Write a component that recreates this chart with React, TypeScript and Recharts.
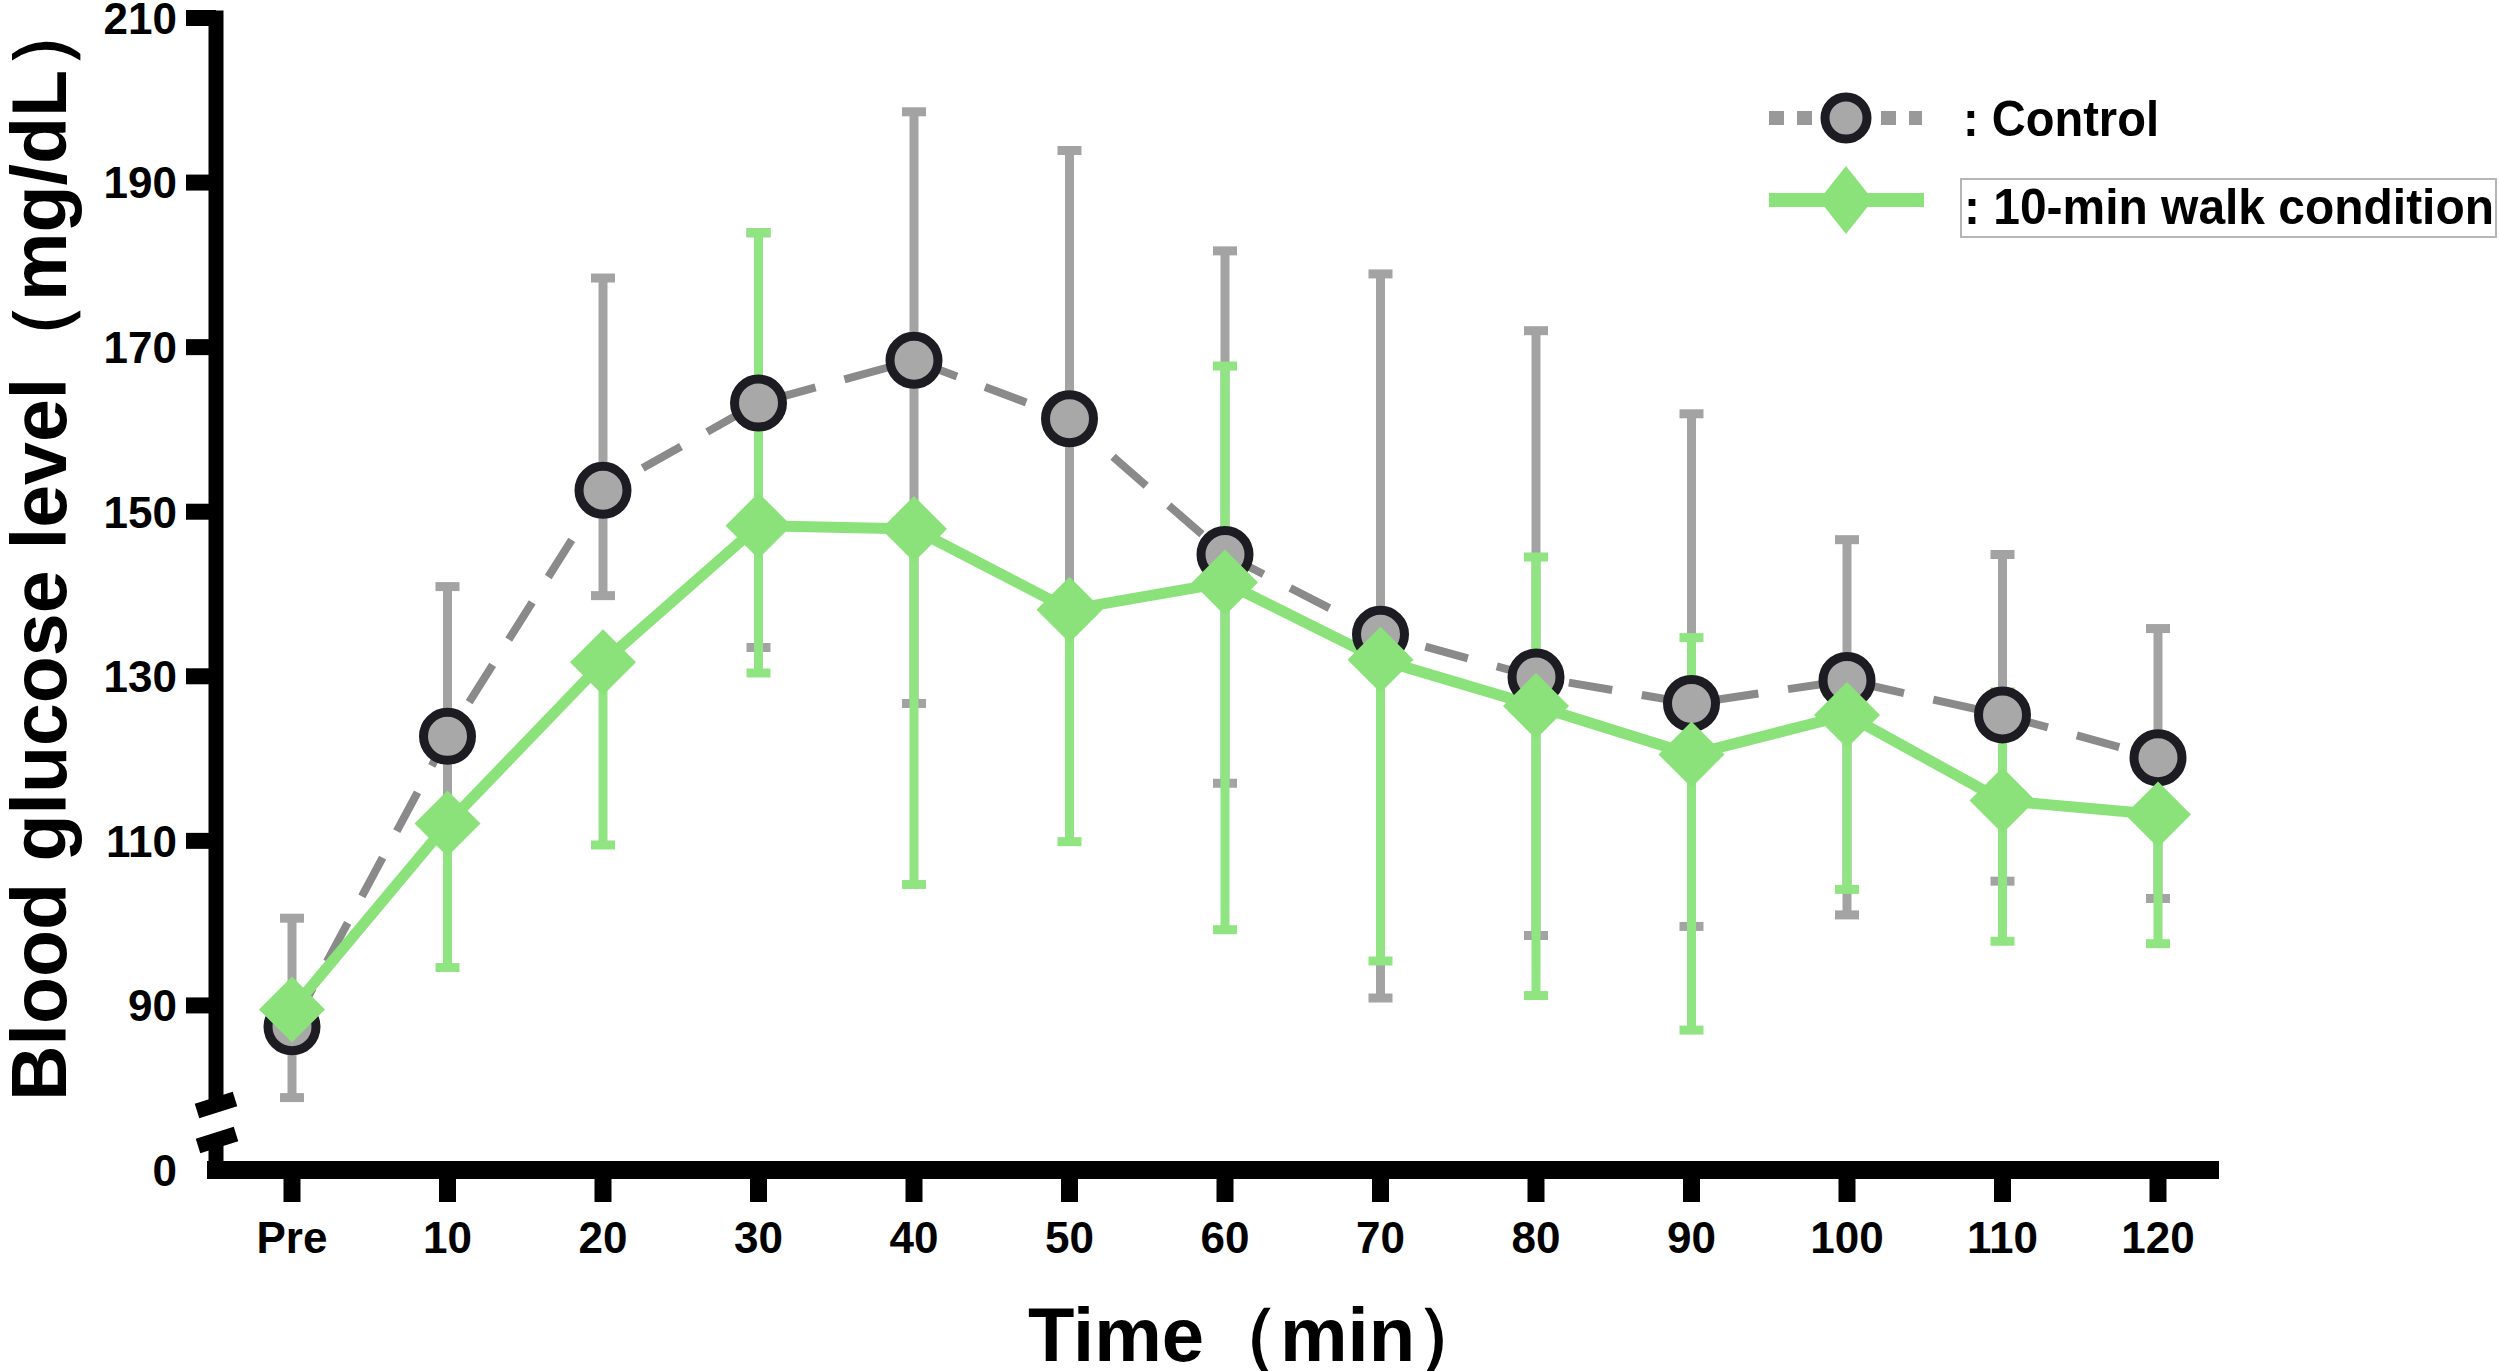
import React from "react";
import { ErrorBar, Label, Line, LineChart, XAxis, YAxis } from "recharts";

const FONT = "'Liberation Sans', Arial, Helvetica, sans-serif";

const TIMES = ["Pre", "10", "20", "30", "40", "50", "60", "70", "80", "90", "100", "110", "120"];

// Control condition: mean with the lower / upper end of each error bar
const CONTROL_MEAN = [87.4, 122.7, 152.6, 163.2, 168.4, 161.3, 144.8, 135.1, 129.9, 126.7, 129.5, 125.3, 120.1];
const CONTROL_LOW = [78.8, 112.1, 139.8, 133.5, 126.7, 138.1, 117.0, 90.9, 98.5, 99.6, 101.0, 105.1, 103.0];
const CONTROL_HIGH = [100.6, 140.9, 178.4, 183.9, 198.6, 193.9, 181.7, 178.9, 172.0, 161.9, 146.6, 144.8, 135.8];

// 10-min walk condition
const WALK_MEAN = [89.5, 112.1, 131.7, 148.3, 147.9, 138.1, 141.4, 132.0, 126.4, 120.5, 125.3, 114.9, 113.2];
const WALK_LOW = [89.5, 94.6, 109.5, 130.4, 104.7, 109.9, 99.2, 95.4, 91.2, 87.0, 104.1, 97.8, 97.5];
const WALK_HIGH = [89.5, 112.1, 131.7, 183.9, 147.9, 138.1, 167.7, 132.0, 144.5, 134.7, 125.3, 128.1, 120.1];

// the lowest tick sits below the axis break and is labelled "0"
const Y_TICKS = [70, 90, 110, 130, 150, 170, 190, 210];
const Y_BREAK_LABEL = "0";

const SERIES_NAMES = [": Control", ": 10-min walk condition"];

const rows = TIMES.map((time, i) => ({
  time,
  control: CONTROL_MEAN[i],
  controlErr: [CONTROL_MEAN[i] - CONTROL_LOW[i], CONTROL_HIGH[i] - CONTROL_MEAN[i]],
  walk: WALK_MEAN[i],
  walkErr: [WALK_MEAN[i] - WALK_LOW[i], WALK_HIGH[i] - WALK_MEAN[i]],
}));

const GREEN = "#8be27a";
const GREEN_BAR = "#90e481";
const GRAY_LINE = "#8a8a8a";
const GRAY_BAR = "#a3a3a3";
const GRAY_FILL = "#a8a8a8";
const DARK = "#1c1c22";

const Y_TICK_SIZE = 30;
const Y_TICK_MARGIN = 9;

function YTick(props: any) {
  const { x, y, payload } = props;
  const axisX = x + Y_TICK_SIZE + Y_TICK_MARGIN;
  const isBreak = payload.value === Y_TICKS[0];
  return (
    <g>
      {isBreak ? (
        <g>
          <rect x={axisX - 10} y={y - 62} width={20} height={28} fill="#fff" />
          <line x1={axisX - 19} y1={y - 59} x2={axisX + 19} y2={y - 71} stroke="#000" strokeWidth={15} />
          <line x1={axisX - 18} y1={y - 24} x2={axisX + 20} y2={y - 36} stroke="#000" strokeWidth={15} />
        </g>
      ) : (
        <line x1={axisX - Y_TICK_SIZE} y1={y} x2={axisX} y2={y} stroke="#000" strokeWidth={16} />
      )}
      <text
        x={x}
        y={y}
        dy="0.36em"
        textAnchor="end"
        fontFamily={FONT}
        fontSize={44}
        fontWeight={700}
        fill="#000"
      >
        {isBreak ? Y_BREAK_LABEL : payload.value}
      </text>
    </g>
  );
}

function Diamond(props: any) {
  const { cx, cy } = props;
  if (cx == null || cy == null) return null;
  const h = 33;
  return (
    <polygon
      points={`${cx},${cy - h} ${cx + h},${cy} ${cx},${cy + h} ${cx - h},${cy}`}
      fill={GREEN}
    />
  );
}

function XTitle(props: any) {
  const { x, y } = props.viewBox;
  return (
    <text x={x + 812} y={y + 191} fontFamily={FONT} fontSize={76} fontWeight={700} fill="#000">
      Time（min）
    </text>
  );
}

function YTitle(props: any) {
  const { x, y } = props.viewBox;
  const tx = x + 66;
  const ty = y + 1083;
  return (
    <text
      x={tx}
      y={ty}
      transform={`rotate(-90 ${tx} ${ty})`}
      fontFamily={FONT}
      fontSize={77}
      fontWeight={700}
      fill="#000"
    >
      Blood glucose level（mg/dL）
    </text>
  );
}

function LegendBox() {
  return (
    <svg width={740} height={200} style={{ position: "absolute", left: 1760, top: 40 }}>
      <g transform="translate(-1760 -40)">
        <line x1={1769} y1={118} x2={1922} y2={118} stroke="#999" strokeWidth={14} strokeDasharray="15 13" />
        <circle cx={1846} cy={118} r={21} fill={GRAY_FILL} stroke={DARK} strokeWidth={9} />
        <text
          x={1963}
          y={136}
          fontFamily={FONT}
          fontSize={50}
          fontWeight={700}
          fill="#000"
          textLength={196}
          lengthAdjust="spacingAndGlyphs"
        >
          {SERIES_NAMES[0]}
        </text>

        <line x1={1769} y1={200} x2={1924} y2={200} stroke={GREEN} strokeWidth={14} />
        <polygon points="1846,166 1873,200 1846,234 1819,200" fill={GREEN} />
        <rect x={1961} y={179} width={535} height={58} fill="none" stroke="#b5b5b5" strokeWidth={2} />
        <text
          x={1964}
          y={224}
          fontFamily={FONT}
          fontSize={50}
          fontWeight={700}
          fill="#000"
          textLength={530}
          lengthAdjust="spacingAndGlyphs"
        >
          {SERIES_NAMES[1]}
        </text>
      </g>
    </svg>
  );
}

export default function App() {
  return (
    <div style={{ position: "absolute", left: 0, top: 0, width: 2500, height: 1371, background: "#fff" }}>
      <LineChart width={2500} height={1371} data={rows} margin={{ top: 18, right: 290, bottom: 0, left: 0 }}>
        <XAxis
          dataKey="time"
          height={201}
          interval={0}
          padding={{ left: 76, right: 52 }}
          axisLine={{ stroke: "#000", strokeWidth: 18, strokeLinecap: "square" }}
          tickLine={{ stroke: "#000", strokeWidth: 17 }}
          tickSize={32}
          tickMargin={20}
          tick={{ fontSize: 44, fontWeight: 700, fill: "#000", fontFamily: FONT }}
        >
          <Label content={XTitle} />
        </XAxis>
        <YAxis
          width={216}
          domain={[70, 210]}
          ticks={Y_TICKS}
          interval={0}
          axisLine={{ stroke: "#000", strokeWidth: 15, strokeLinecap: "square" }}
          tickLine={false}
          tickSize={Y_TICK_SIZE}
          tickMargin={Y_TICK_MARGIN}
          tick={YTick}
        >
          <Label content={YTitle} />
        </YAxis>
        <Line
          dataKey="control"
          type="linear"
          stroke={GRAY_LINE}
          strokeWidth={8}
          strokeDasharray="44 30"
          dot={{ r: 24, fill: GRAY_FILL, stroke: DARK, strokeWidth: 9, strokeDasharray: "none" }}
          activeDot={false}
          isAnimationActive={false}
        >
          <ErrorBar dataKey="controlErr" width={12} stroke={GRAY_BAR} strokeWidth={9} isAnimationActive={false} />
        </Line>
        <Line
          dataKey="walk"
          type="linear"
          stroke={GREEN}
          strokeWidth={11}
          dot={<Diamond />}
          activeDot={false}
          isAnimationActive={false}
        >
          <ErrorBar dataKey="walkErr" width={12} stroke={GREEN_BAR} strokeWidth={9} isAnimationActive={false} />
        </Line>
      </LineChart>
      <LegendBox />
    </div>
  );
}
